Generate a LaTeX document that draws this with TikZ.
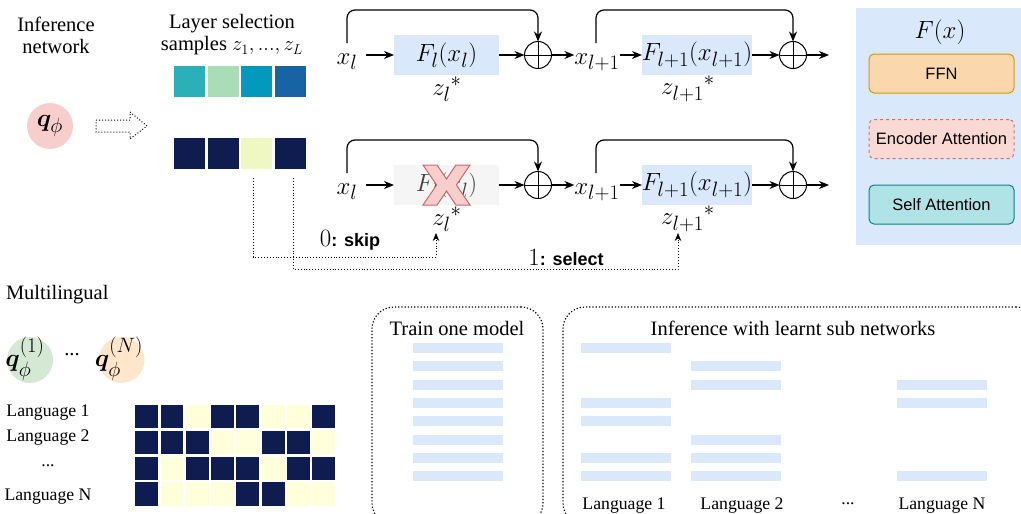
\RequirePackage{fix-cm}
\documentclass[tikz,border=0pt]{standalone}
\usepackage{amsmath,bm}
\usepackage{fontspec}
\setmainfont{Liberation Serif}
\setsansfont{Liberation Sans}
\usetikzlibrary{arrows.meta,calc}

\definecolor{blueFill}{HTML}{DAE8FC}
\definecolor{grayFill}{HTML}{F5F5F5}
\definecolor{pinkFill}{HTML}{F8CECC}
\definecolor{redLine}{HTML}{C56B66}
\definecolor{greenFill}{HTML}{D5E8D4}
\definecolor{peachFill}{HTML}{FFE6CC}
\definecolor{ffnFill}{HTML}{FAD7AC}
\definecolor{ffnLine}{HTML}{D79B00}
\definecolor{encFill}{HTML}{FAD9D5}
\definecolor{encLine}{HTML}{D0706A}
\definecolor{selfFill}{HTML}{B0E3E6}
\definecolor{selfLine}{HTML}{0E8088}
\definecolor{sqA}{HTML}{2BB0BA}
\definecolor{sqB}{HTML}{A8DDB5}
\definecolor{sqC}{HTML}{0399BC}
\definecolor{sqD}{HTML}{1763A4}
\definecolor{navy}{HTML}{0E1C4F}
\definecolor{paleY}{HTML}{EFF8C3}
% grid cell colours: 1 = layer kept, 0 = layer skipped
\colorlet{gc1}{navy}
\definecolor{gc0}{HTML}{FFFFDA}

% math for the block labels
\newcommand{\blkmath}[1]{$#1$}

\begin{document}
\begin{tikzpicture}[x=1pt,y=-1pt,
  every node/.style={inner sep=0pt, outer sep=0pt},
  flow/.style={-{Stealth[length=10pt,width=8pt]}, line width=1.2pt},
  fbox/.style={rectangle, minimum width=105pt, minimum height=40pt, fill=blueFill,
    font=\fontsize{24.88}{30}\selectfont},
  plus/.style={circle, draw, line width=1pt, minimum size=27pt,
    path picture={\draw[line width=1pt]
      (path picture bounding box.north) -- (path picture bounding box.south)
      (path picture bounding box.west) -- (path picture bounding box.east);}},
  mathlbl/.style={font=\fontsize{24.88}{30}\selectfont},
  title/.style={font=\fontsize{20.5}{25}\selectfont, align=center},
  lang/.style={font=\fontsize{17.7}{21}\selectfont},
  blk/.style={rectangle, rounded corners=5pt, minimum width=145pt, minimum height=39pt,
    line width=1pt, font=\sffamily\fontsize{16.5}{20}\selectfont},
  sq/.style={rectangle, minimum size=31pt},
  cell/.style={rectangle, minimum width=25.3pt, minimum height=25.7pt, draw=white, line width=2.5pt},
  bar/.style={rectangle, fill=blueFill, minimum width=90pt, minimum height=10pt},
  frame/.style={draw, dotted, line width=1.2pt, rounded corners=22pt},
  sel/.style={dotted, line width=0.9pt, -{Stealth[length=8pt,width=6.5pt]}},
  qc/.style={circle, minimum size=46pt},
  qtxt/.style={font=\fontsize{24.88}{28}\selectfont},
]
\useasboundingbox (0,0) rectangle (1021,514);
\clip (0,0) rectangle (1021,514);

% ---------- inference network and sampled masks ----------
\node[title] (inf) at (56,35) {Inference\\[-3pt]network};
\node[qc, fill=pinkFill] (q) at (50,126) {};
\node[qtxt] (qt) at (50,126) {$\bm{q}_\phi$};
\draw[dotted, line width=1pt] (96,120) -- (130,120) -- (130,112) -- (147,126)
  -- (130,139) -- (130,132) -- (96,132) -- cycle;

\node[title] (lay) at (232,35) {Layer selection\\[-3pt]samples $z_1, ..., z_L$};
\foreach \c [count=\i from 0] in {sqA,sqB,sqC,sqD}
  \node[sq, fill=\c] (t\i) at (189.5+33.5*\i,81.5) {};
\foreach \c [count=\i from 0] in {navy,navy,paleY,navy}
  \node[sq, fill=\c] (b\i) at (189.5+33.5*\i,153) {};

% ---------- residual block, all layers ----------
\node[mathlbl, anchor=base] (xa) at (347,64) {\blkmath{x_l}};
\node[fbox] (Fa) at (446.5,55) {\blkmath{F_l(x_l)}};
\node[plus] (ca) at (538,55) {};
\node[mathlbl, anchor=base] (xb) at (597,64) {\blkmath{x_{l+1}}};
\node[fbox, minimum width=104pt] (Fb) at (697,55) {\blkmath{F_{l+1}(x_{l+1})}};
\node[plus] (cb) at (793,55) {};
\coordinate (oa) at (829,55);
\coordinate (la) at (347,43);
\coordinate (lb) at (596,43);
\node[mathlbl] (za) at (447,89) {\blkmath{z_l{}^{*}}};
\node[mathlbl] (zb) at (688,89) {\blkmath{z_{l+1}{}^{*}}};

\draw[flow] ($(xa.east |- Fa.west)+(9,0)$) -- (Fa.west);
\draw[flow] (Fa.east) -- (ca.west);
\draw[flow] (ca.east) -- (xb.west |- ca.east);
\draw[flow] (xb.east |- Fb.west) -- (Fb.west);
\draw[flow] (Fb.east) -- (cb.west);
\draw[flow] (cb.east) -- (oa);
\draw[flow, rounded corners=8pt] (la) -- ++(0,-33) -| (ca.north);
\draw[flow, rounded corners=8pt] (lb) -- ++(0,-33) -| (cb.north);

% ---------- residual block, first layer skipped ----------
\node[mathlbl, anchor=base] (xa2) at (347,194) {\blkmath{x_l}};
\node[fbox, fill=grayFill, text=black!75] (Fa2) at (446.5,185) {\blkmath{F_l(x_l)}};
\node[plus] (ca2) at (538,185) {};
\node[mathlbl, anchor=base] (xb2) at (597,194) {\blkmath{x_{l+1}}};
\node[fbox, minimum width=104pt] (Fb2) at (697,185) {\blkmath{F_{l+1}(x_{l+1})}};
\node[plus] (cb2) at (793,185) {};
\coordinate (oa2) at (829,185);
\coordinate (la2) at (347,173);
\coordinate (lb2) at (596,173);
\node[mathlbl] (za2) at (447,219) {\blkmath{z_l{}^{*}}};
\node[mathlbl] (zb2) at (688,219) {\blkmath{z_{l+1}{}^{*}}};

\draw[flow] ($(xa2.east |- Fa2.west)+(9,0)$) -- (Fa2.west);
\draw[flow] (Fa2.east) -- (ca2.west);
\draw[flow] (ca2.east) -- (xb2.west |- ca2.east);
\draw[flow] (xb2.east |- Fb2.west) -- (Fb2.west);
\draw[flow] (Fb2.east) -- (cb2.west);
\draw[flow] (cb2.east) -- (oa2);
\draw[flow, rounded corners=8pt] (la2) -- ++(0,-33) -| (ca2.north);
\draw[flow, rounded corners=8pt] (lb2) -- ++(0,-33) -| (cb2.north);

% cross over the skipped layer
\filldraw[fill=pinkFill, draw=redLine, line width=1pt]
  (423,165) -- (437.1,165) -- (446.5,179) -- (455.9,165) -- (470,165) -- (456.4,185)
  -- (470,205) -- (455.9,205) -- (446.5,191) -- (437.1,205) -- (423,205) -- (436.6,185) -- cycle;

% mask bits routed to the gates
\coordinate (ka) at (253,178);
\coordinate (kb) at (293,178);
\coordinate (ta) at (436,233);
\coordinate (tb) at (678,233);
\draw[sel] (ka) |- ($(ta)+(0,24)$) -- (ta);
\draw[sel] (kb) |- ($(tb)+(0,36)$) -- (tb);
\node (skip) at (350,240) {{\fontsize{24.88}{28}\selectfont$0$}{\sffamily\bfseries\fontsize{18}{22}\selectfont: skip}};
\node (select) at (566,258) {{\fontsize{24.88}{28}\selectfont$1$}{\sffamily\bfseries\fontsize{18}{22}\selectfont: select}};

% ---------- F(x) legend ----------
\node[fill=blueFill, anchor=north west, minimum width=170pt, minimum height=237pt] (panel) at (856,8) {};
\node[mathlbl] (fx) at (940,32) {\blkmath{F(x)}};
\node[blk, fill=ffnFill, draw=ffnLine] (ffn) at (941.5,73.5) {FFN};
\node[blk, fill=encFill, draw=encLine, dashed] (enc) at (941.5,139) {Encoder Attention};
\node[blk, fill=selfFill, draw=selfLine] (self) at (941.5,204.5) {Self Attention};

% ---------- multilingual part ----------
\node[title, anchor=west] (ml) at (6,295) {Multilingual};
\node[qc, fill=greenFill] (q1) at (30,360) {};
\node[qtxt] (q1t) at (25,359) {$\bm{q}_\phi^{(1)}$};
\node[title] (qdots) at (72,355) {...};
\node[qc, fill=peachFill] (qN) at (121.5,360) {};
\node[qtxt] (qNt) at (119,359) {$\bm{q}_\phi^{(N)}$};

\node[lang] (l1) at (48,413) {Language 1};
\node[lang] (l2) at (48,438) {Language 2};
\node[lang] (ld) at (48,466) {...};
\node[lang] (lN) at (48,497) {Language N};

\foreach \row [count=\j from 0] in {{1,1,0,1,1,0,0,1},{1,1,1,0,0,1,1,0},{1,0,1,1,1,0,1,1},{1,0,0,0,1,1,0,0}}
  \foreach \v [count=\i from 0] in \row
    \node[cell, fill=gc\v] (g-\j-\i) at (146.6+25.3*\i,416.85+25.7*\j) {};

% ---------- training vs. inference ----------
\node[frame, anchor=north west, minimum width=171pt, minimum height=218pt] (train) at (372,307) {};
\node[title] (traint) at (457,328) {Train one model};
\foreach \k in {0,...,7}
  \node[bar] (tr\k) at (458,348+18.3*\k) {};

\node[frame, anchor=north west, minimum width=475pt, minimum height=218pt] (infer) at (563,307) {};
\node[title] (infert) at (793,328) {Inference with learnt sub networks};
\foreach \k in {0,3,4,6,7}
  \node[bar] (ia\k) at (626,348+18.3*\k) {};
\foreach \k in {1,2,5,6,7}
  \node[bar] (ib\k) at (736,348+18.3*\k) {};
\foreach \k in {2,3,7}
  \node[bar] (in\k) at (942,348+18.3*\k) {};

\node[lang] (il1) at (624,506) {Language 1};
\node[lang] (il2) at (742,506) {Language 2};
\node[lang] (ild) at (848,504) {...};
\node[lang] (ilN) at (942,506) {Language N};
\end{tikzpicture}
\end{document}
